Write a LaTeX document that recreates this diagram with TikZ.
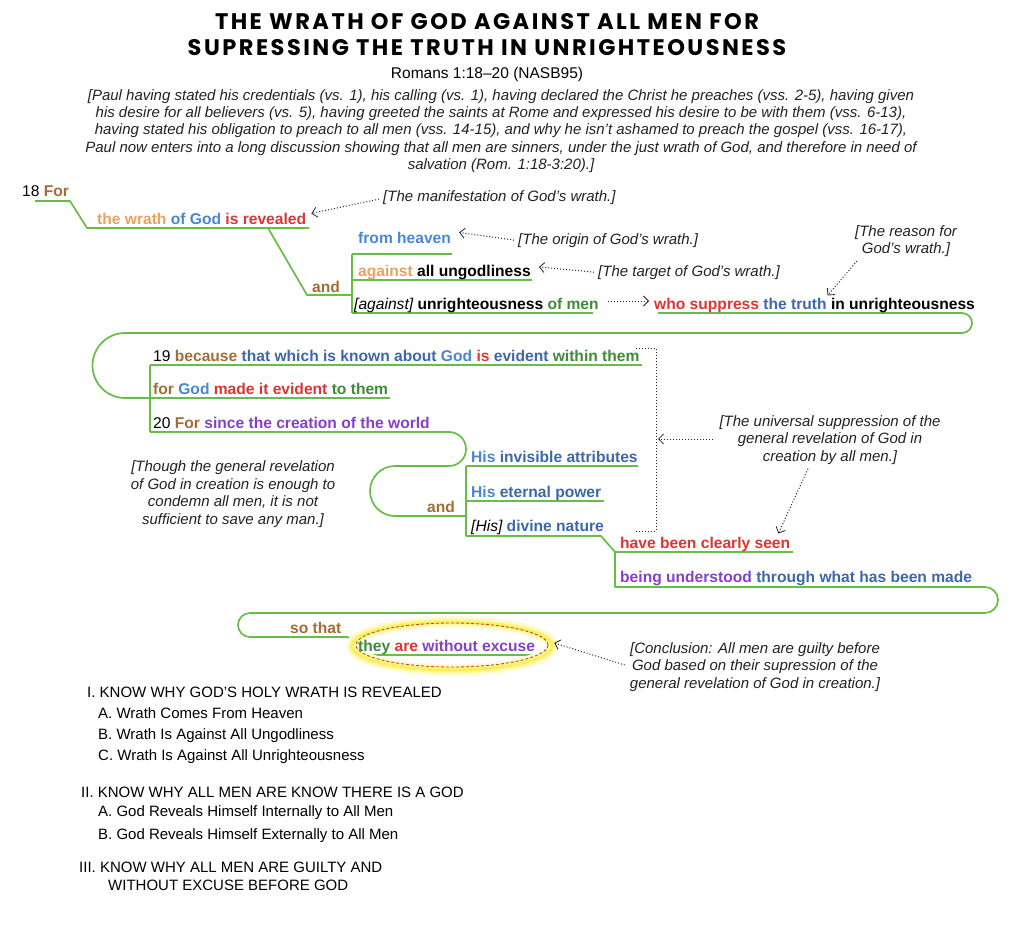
\documentclass[tikz,border=0pt]{standalone}
\usepackage{fontspec}
\setmainfont{Liberation Sans}
\newfontfamily\titlefont{Poppins}[LetterSpace=11]
\usetikzlibrary{arrows.meta,calc}
\definecolor{cbrown}{RGB}{163,110,52}
\definecolor{corange}{RGB}{234,162,92}
\definecolor{cblue}{RGB}{74,134,214}
\definecolor{cdblue}{RGB}{60,104,170}
\definecolor{cred}{RGB}{222,52,52}
\definecolor{cgreen}{RGB}{62,140,56}
\definecolor{cpurple}{RGB}{132,64,200}
\definecolor{lgreen}{RGB}{102,190,70}
\definecolor{ctext}{RGB}{34,34,34}
\definecolor{glowy}{RGB}{250,240,90}
\definecolor{dred}{RGB}{200,70,40}
\newcommand\bodyf{\fontsize{15.6}{18}\selectfont}
\newcommand\annf{\fontsize{15}{17.5}\selectfont}
\begin{document}
\begin{tikzpicture}[x=1pt,y=-1pt,
  tx/.style={anchor=base west, inner sep=0pt, font=\bodyf\bfseries},
  ann/.style={align=center, font=\annf\itshape, text=ctext, inner sep=0pt},
  outl/.style={anchor=west, inner sep=0pt, font=\fontsize{15}{18}\selectfont, text=black},
  ttl/.style={font=\titlefont\bfseries\fontsize{22.5}{26}\selectfont, inner sep=0pt},
  ul/.style={draw=lgreen, line width=1.7pt, line join=round},
  darr/.style={draw=black!85, dotted, line width=1pt, -{Straight Barb[length=5pt,width=10pt,line width=0.8pt]}},
  brk/.style={draw=black!85, dotted, line width=1pt}]
\useasboundingbox[fill=white] (0,0) rectangle (1024,931);

% title
\node[ttl] (title1) at (487,22) {THE WRATH OF GOD AGAINST ALL MEN FOR};
\node[ttl] (title2) at (487,48) {SUPRESSING THE TRUTH IN UNRIGHTEOUSNESS};
\node[font=\fontsize{15.5}{17}\selectfont] (sub) at (487,74) {Romans 1:18–20 (NASB95)};
\node[ann, font=\fontsize{15}{17.3}\selectfont\itshape] (intro) at (501,131) {[Paul having stated his credentials (vs. 1), his calling (vs. 1), having declared the Christ he preaches (vss. 2-5), having given\\
his desire for all believers (vs. 5), having greeted the saints at Rome and expressed his desire to be with them (vss. 6-13),\\
having stated his obligation to preach to all men (vss. 14-15), and why he isn’t ashamed to preach the gospel (vss. 16-17),\\
Paul now enters into a long discussion showing that all men are sinners, under the just wrath of God, and therefore in need of\\
salvation (Rom. 1:18-3:20).]};

% green structure lines
\draw[ul] (35,201) -- (70,201) -- (87,228) -- (309,228);
\draw[ul] (268,228) -- (307,295) -- (352,295);
\draw[ul] (352,254) -- (352,313);
\draw[ul] (352,254) -- (452,254);
\draw[ul] (352,280) -- (532,280);
\draw[ul] (352,313) -- (593,313);
\draw[ul] (658,313) -- (962,313) arc[start angle=-90,end angle=90,radius=10] -- (125,333) arc[start angle=270,end angle=90,radius=32.5] -- (390,398);
\draw[ul] (150,365) -- (150,432);
\draw[ul] (150,365) -- (642,365);
\draw[ul] (150,432) -- (449,432) arc[start angle=-90,end angle=90,radius=17] -- (395,466) arc[start angle=270,end angle=90,radius=25] -- (466,516);
\draw[ul] (466,466) -- (466,536);
\draw[ul] (466,466) -- (638,466);
\draw[ul] (466,501) -- (604,501);
\draw[ul] (466,536) -- (601,536) -- (615,552) -- (793,552);
\draw[ul] (615,552) -- (615,587) -- (985,587) arc[start angle=-90,end angle=90,radius=13] -- (250,613) arc[start angle=270,end angle=90,radius=12] -- (348,637) -- (360,655) -- (536,655);

% highlight ellipse
\draw[glowy!25, line width=12pt] (452,646) ellipse [x radius=100, y radius=24];
\draw[glowy!55, line width=7pt] (452,646) ellipse [x radius=100, y radius=24];
\draw[glowy, line width=3pt] (452,646) ellipse [x radius=100, y radius=24];
\draw[dred, line width=0.9pt, dash pattern=on 3pt off 2pt] (452,645) ellipse [x radius=96, y radius=22];

% verse text
\node[tx] (v18) at (22,196) {{\mdseries 18} \textcolor{cbrown}{For}};
\node[tx] (wrath) at (97,224) {\textcolor{corange}{the wrath} \textcolor{cblue}{of God} \textcolor{cred}{is revealed}};
\node[tx] (and1) at (312,292) {\textcolor{cbrown}{and}};
\node[tx] (heaven) at (358,243) {\textcolor{cblue}{from heaven}};
\node[tx] (ungod) at (358,276) {\textcolor{corange}{against} all ungodliness};
\node[tx] (unright) at (354,309) {{\mdseries\itshape [against]} unrighteousness \textcolor{cgreen}{of men}};
\node[tx] (suppress) at (654,309) {\textcolor{cred}{who suppress} \textcolor{cdblue}{the truth} in unrighteousness};
\node[tx] (v19) at (153,361) {{\mdseries 19} \textcolor{cbrown}{because} \textcolor{cdblue}{that which is known about} \textcolor{cblue}{God} \textcolor{cred}{is} \textcolor{cdblue}{evident} \textcolor{cgreen}{within them}};
\node[tx] (forgod) at (153,394) {\textcolor{cbrown}{for} \textcolor{cblue}{God} \textcolor{cred}{made it evident} \textcolor{cgreen}{to them}};
\node[tx] (v20) at (153,428) {{\mdseries 20} \textcolor{cbrown}{For} \textcolor{cpurple}{since the creation of the world}};
\node[tx] (attr) at (471,462) {\textcolor{cblue}{His} \textcolor{cdblue}{invisible attributes}};
\node[tx] (power) at (471,497) {\textcolor{cblue}{His} \textcolor{cdblue}{eternal power}};
\node[tx] (nature) at (471,531) {{\mdseries\itshape [His]} \textcolor{cdblue}{divine nature}};
\node[tx] (and2) at (427,512) {\textcolor{cbrown}{and}};
\node[tx] (seen) at (620,548) {\textcolor{cred}{have been clearly seen}};
\node[tx] (made) at (620,582) {\textcolor{cpurple}{being understood} \textcolor{cdblue}{through what has been made}};
\node[tx] (sothat) at (290,633) {\textcolor{cbrown}{so that}};
\node[tx] (excuse) at (358,651) {\textcolor{cgreen}{they} \textcolor{cred}{are} \textcolor{cpurple}{without excuse}};

% annotations
\node[ann, anchor=base west] (manif) at (383,201) {[The manifestation of God’s wrath.]};
\node[ann, anchor=base west] (origin) at (518,244) {[The origin of God’s wrath.]};
\node[ann, anchor=base west] (target) at (598,276) {[The target of God’s wrath.]};
\node[ann] (reason) at (906,241) {[The reason for\\God’s wrath.]};
\node[ann] (univ) at (830,440) {[The universal suppression of the\\general revelation of God in\\creation by all men.]};
\node[ann] (though) at (233,494) {[Though the general revelation\\of God in creation is enough to\\condemn all men, it is not\\sufficient to save any man.]};
\node[ann] (concl) at (755,667) {[Conclusion: All men are guilty before\\God based on their supression of the\\general revelation of God in creation.]};

% bracket
\coordinate (btop) at (636,348);
\coordinate (bbot) at (636,531);
\coordinate (bmid) at (656,439);
\draw[brk] (btop) -- (656,348) -- (656,531) -- (bbot);

% dotted arrows
\draw[darr] ($(manif.west)+(-4,2)$) -- ($(wrath.east)+(5,-5)$);
\draw[darr] ($(origin.west)+(-4,0)$) -- ($(heaven.east)+(8,-5)$);
\draw[darr] ($(target.west)+(-4,0)$) -- ($(ungod.east)+(8,-5)$);
\draw[darr] ($(unright.east)+(9,-4)$) -- ($(suppress.west)+(-5,-4)$);
\draw[darr] ($(reason.south)+(-49,4)$) -- ($(suppress.north)+(13,-2)$);
\draw[darr] ($(univ.west)+(-6,-1)$) -- ($(bmid)+(2,0)$);
\draw[darr] ($(univ.south)+(-22,4)$) -- ($(seen.north east)+(-12,-3)$);
\draw[darr] ($(concl.west)+(-5,-2)$) -- ($(excuse.east)+(19,-4)$);

% outline
\node[outl] (o1) at (87,692) {I. KNOW WHY GOD’S HOLY WRATH IS REVEALED};
\node[outl] (o1a) at (98,713) {A. Wrath Comes From Heaven};
\node[outl] (o1b) at (98,736) {B. Wrath Is Against All Ungodliness};
\node[outl] (o1c) at (98,757) {C. Wrath Is Against All Unrighteousness};
\node[outl] (o2) at (81,792) {II. KNOW WHY ALL MEN ARE KNOW THERE IS A GOD};
\node[outl] (o2a) at (98,813) {A. God Reveals Himself Internally to All Men};
\node[outl] (o2b) at (98,836) {B. God Reveals Himself Externally to All Men};
\node[outl] (o3) at (79,867) {III. KNOW WHY ALL MEN ARE GUILTY AND};
\node[outl] (o3b) at (108,885) {WITHOUT EXCUSE BEFORE GOD};
\end{tikzpicture}
\end{document}
